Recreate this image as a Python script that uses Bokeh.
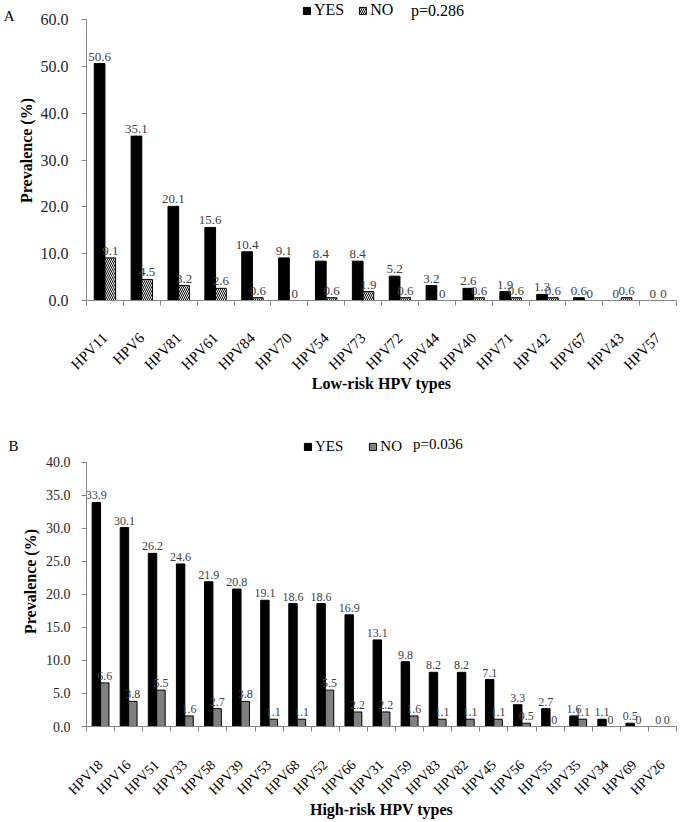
import math
from bokeh.plotting import figure
from bokeh.models import (Range1d, FixedTicker, NumeralTickFormatter, Legend,
                          LegendItem, ColumnDataSource, Label, LinearAxis)
from bokeh.layouts import column
from bokeh.embed import file_html
from bokeh.resources import INLINE
from bokeh.core.properties import value

# ---------------- data ----------------
low_types = ["HPV11", "HPV6", "HPV81", "HPV61", "HPV84", "HPV70", "HPV54", "HPV73",
             "HPV72", "HPV44", "HPV40", "HPV71", "HPV42", "HPV67", "HPV43", "HPV57"]
low_yes = [50.6, 35.1, 20.1, 15.6, 10.4, 9.1, 8.4, 8.4, 5.2, 3.2, 2.6, 1.9, 1.3, 0.6, 0, 0]
low_no = [9.1, 4.5, 3.2, 2.6, 0.6, 0, 0.6, 1.9, 0.6, 0, 0.6, 0.6, 0.6, 0, 0.6, 0]

high_types = ["HPV18", "HPV16", "HPV51", "HPV33", "HPV58", "HPV39", "HPV53", "HPV68",
              "HPV52", "HPV66", "HPV31", "HPV59", "HPV83", "HPV82", "HPV45", "HPV56",
              "HPV55", "HPV35", "HPV34", "HPV69", "HPV26"]
high_yes = [33.9, 30.1, 26.2, 24.6, 21.9, 20.8, 19.1, 18.6, 18.6, 16.9, 13.1, 9.8,
            8.2, 8.2, 7.1, 3.3, 2.7, 1.6, 1.1, 0.5, 0]
high_no = [6.6, 3.8, 5.5, 1.6, 2.7, 3.8, 1.1, 1.1, 5.5, 2.2, 2.2, 1.6, 1.1, 1.1, 1.1,
           0.5, 0, 1.1, 0, 0, 0]

low_ticks = [0, 10, 20, 30, 40, 50, 60]
high_ticks = [0, 5, 10, 15, 20, 25, 30, 35, 40]

FONT = "Liberation Serif"
AXIS_GRAY = "#868686"


def fmt(v):
    return "0" if v == 0 else f"{v:g}"


def make_chart(types, yes, no, yticks, panel, pval, xtitle, cfg):
    n = len(types)
    ymax = yticks[-1]
    fh = cfg["height"] - cfg["bb"]            # frame height (frame starts at canvas top)
    head = cfg["head"]                        # px of header room above the ymax line
    yend = ymax * fh / (fh - head)
    fw = cfg["width"] - cfg["bl"] - cfg["br"]
    pxu = fw / n                              # px per category
    pyu = fh / yend                           # px per y unit

    p = figure(width=cfg["width"], height=cfg["height"], output_backend="svg",
               toolbar_location=None, x_range=Range1d(0, n), y_range=Range1d(0, yend),
               min_border_left=cfg["bl"], min_border_right=cfg["br"],
               min_border_top=0, min_border_bottom=cfg["bb"])
    p.outline_line_color = None
    p.xgrid.grid_line_color = None
    p.ygrid.grid_line_color = None

    w = cfg["bw"]
    idx = list(range(n))
    src = ColumnDataSource(dict(
        x_yes=[i + 0.5 - w / 2 for i in idx],
        x_no=[i + 0.5 + w / 2 for i in idx],
        yes=yes, no=no,
        yes_lbl=[fmt(v) for v in yes],
        no_lbl=[fmt(v) for v in no],
    ))
    r_yes = p.vbar(x="x_yes", top="yes", width=w, source=src,
                   fill_color="black", line_color="black", line_width=1)
    if cfg["hatch"]:
        r_no = p.vbar(x="x_no", top="no", width=w, source=src,
                      fill_color="white", line_color="black", line_width=1,
                      hatch_pattern="\\", hatch_color="black", hatch_scale=4,
                      hatch_weight=1)
    else:
        r_no = p.vbar(x="x_no", top="no", width=w, source=src,
                      fill_color="#808080", line_color="black", line_width=1)

    for xcol, ycol, tcol in (("x_yes", "yes", "yes_lbl"), ("x_no", "no", "no_lbl")):
        p.text(x=xcol, y=ycol, text=tcol, source=src, text_align="center",
               text_baseline="bottom", y_offset=-3, text_color="#404040",
               text_font=value(FONT), text_font_size=cfg["vfs"])

    # y axis
    yax = p.yaxis[0]
    yax.ticker = FixedTicker(ticks=yticks)
    yax.bounds = (0, ymax)
    yax.formatter = NumeralTickFormatter(format="0.0")
    yax.axis_line_color = AXIS_GRAY
    yax.major_tick_line_color = AXIS_GRAY
    yax.major_tick_out = 5
    yax.major_tick_in = 0
    yax.minor_tick_line_color = None
    yax.major_label_text_font = FONT
    yax.major_label_text_font_size = cfg["tfs"]
    yax.major_label_text_color = "#262626"
    yax.major_label_standoff = cfg["ylstand"]
    yax.axis_label = "Prevalence (%)"
    yax.axis_label_text_font = FONT
    yax.axis_label_text_font_style = "bold"
    yax.axis_label_text_font_size = "16px"
    yax.axis_label_text_color = "black"
    yax.axis_label_standoff = cfg["ytstand"]

    # panel letter, carried by an outer bare axis on the left
    ly = round(yend * (fh - cfg["letter_y"]) / fh, 2)
    lax = LinearAxis(ticker=FixedTicker(ticks=[ly]), major_label_overrides={ly: panel},
                     axis_line_color=None, major_tick_line_color=None,
                     minor_tick_line_color=None, major_tick_out=0, major_tick_in=0,
                     minor_tick_out=0, minor_tick_in=0, major_label_standoff=0,
                     major_label_text_font=FONT, major_label_text_font_size="15px",
                     major_label_text_color="black")
    p.add_layout(lax, "left")

    # x axis
    xax = p.xaxis[0]
    xax.ticker = FixedTicker(ticks=[i + 0.5 for i in idx], minor_ticks=list(range(n + 1)))
    xax.major_label_overrides = {i + 0.5: t for i, t in enumerate(types)}
    xax.major_label_orientation = math.pi / 4
    xax.axis_line_color = AXIS_GRAY
    xax.major_tick_line_color = None
    xax.major_tick_out = 0
    xax.minor_tick_line_color = AXIS_GRAY
    xax.minor_tick_out = 5
    xax.minor_tick_in = 0
    xax.major_label_text_font = FONT
    xax.major_label_text_font_size = cfg["xfs"]
    xax.major_label_text_color = "black"
    xax.major_label_standoff = cfg["xlstand"]
    xax.axis_label = xtitle
    xax.axis_label_text_font = FONT
    xax.axis_label_text_font_style = "bold"
    xax.axis_label_text_font_size = "16px"
    xax.axis_label_text_color = "black"
    xax.axis_label_standoff = cfg["xtstand"]

    # series legend inside the header room of the frame
    legh = cfg["legh"]
    legend = Legend(items=[LegendItem(label="YES", renderers=[r_yes]),
                           LegendItem(label="NO", renderers=[r_no])],
                    orientation="horizontal",
                    location=(cfg["legx"], fh - cfg["leg_y"] - legh / 2),
                    glyph_width=9, glyph_height=9, label_standoff=3,
                    label_height=legh, label_width=0,
                    spacing=cfg["legspace"], padding=0, margin=0,
                    border_line_color=None, background_fill_alpha=0,
                    label_text_font=FONT, label_text_font_size=cfg["lfs"],
                    label_text_color="black")
    p.add_layout(legend, "center")

    p.add_layout(Label(x=cfg["pxs"] / pxu, y=(fh - cfg["p_y"]) / pyu, text=pval,
                       text_font=FONT, text_font_size=cfg["lfs"],
                       text_baseline="middle", text_color="black"))
    return p


top_cfg = dict(width=677, height=436, bl=76, br=1, bb=136, head=19, bw=0.29,
               hatch=True, vfs="13px", tfs="16px", xfs="15px", lfs="16px",
               ylstand=13, ytstand=3, xlstand=30, xtstand=-7,
               legh=16, legspace=14, legx=216, leg_y=11, p_y=10, pxs=330, letter_y=15)
bot_cfg = dict(width=677, height=384, bl=85, br=1, bb=90, head=26, bw=0.3,
               hatch=False, vfs="12px", tfs="14px", xfs="14px", lfs="15px",
               ylstand=11, ytstand=4, xlstand=31, xtstand=-5,
               legh=15, legspace=25, legx=217, leg_y=15, p_y=8, pxs=327, letter_y=10)

p1 = make_chart(low_types, low_yes, low_no, low_ticks, "A", "p=0.286",
                "Low-risk HPV types", top_cfg)
p2 = make_chart(high_types, high_yes, high_no, high_ticks, "B", "p=0.036",
                "High-risk HPV types", bot_cfg)

layout = column(p1, p2, spacing=0)
open("out.html", "w").write(file_html(layout, INLINE))
